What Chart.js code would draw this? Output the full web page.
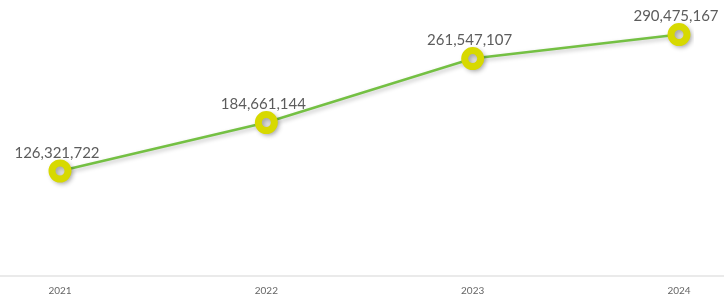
<!DOCTYPE html>
<html>
<head>
<meta charset="utf-8">
<script src="https://cdn.jsdelivr.net/npm/chart.js@4.4.0/dist/chart.umd.min.js"></script>
<style>
  html, body { margin: 0; padding: 0; background: #fff; }
  #wrap { width: 724px; height: 296px; position: relative; }
</style>
</head>
<body>
<div id="wrap"><canvas id="growth"></canvas></div>
<script>
const years = ["2021", "2022", "2023", "2024"];
const totals = [126321722, 184661144, 261547107, 290475167];

// value labels above each point
const valueLabels = {
    id: "valueLabels",
    afterDatasetsDraw(chart) {
        const ctx = chart.ctx;
        const meta = chart.getDatasetMeta(0);
        ctx.save();
        ctx.font = "15px Lato";
        ctx.fillStyle = "#5c5c5c";
        ctx.textAlign = "center";
        ctx.textBaseline = "middle";
        meta.data.forEach((pt, i) => {
            ctx.fillText(totals[i].toLocaleString("en-US"), pt.x - 3, pt.y - 18);
        });
        ctx.restore();
    }
};

// baseline that runs across the whole width
const baseLine = {
    id: "baseLine",
    beforeDraw(chart) {
        const ctx = chart.ctx;
        const y = chart.chartArea.bottom;
        ctx.save();
        ctx.strokeStyle = "#e3e3e3";
        ctx.lineWidth = 1.5;
        ctx.beginPath();
        ctx.moveTo(0, y);
        ctx.lineTo(chart.width, y);
        ctx.stroke();
        ctx.restore();
    }
};

// soft shadow under the points
const pointShadow = {
    id: "pointShadow",
    beforeDatasetDraw(chart) {
        const ctx = chart.ctx;
        ctx.save();
        ctx.shadowColor = "rgba(0,0,0,0.25)";
        ctx.shadowBlur = 4;
        ctx.shadowOffsetX = 2;
        ctx.shadowOffsetY = 2;
    },
    afterDatasetDraw(chart) {
        chart.ctx.restore();
    }
};

new Chart(document.getElementById("growth").getContext("2d"), {
    type: "line",
    data: {
        labels: years,
        datasets: [{
            data: totals,
            borderColor: "#74c043",
            borderWidth: 2.5,
            tension: 0,
            fill: false,
            pointRadius: 8,
            pointHoverRadius: 8,
            pointBorderWidth: 7,
            pointBorderColor: "#d7d900",
            pointBackgroundColor: "#dedede"
        }]
    },
    options: {
        responsive: true,
        maintainAspectRatio: false,
        animation: false,
        layout: { padding: { left: 60, right: 45, top: 4, bottom: -10 } },
        plugins: {
            legend: { display: false },
            tooltip: { enabled: false }
        },
        scales: {
            x: {
                offset: false,
                grid: { display: false, drawTicks: false },
                border: { display: false },
                ticks: {
                    color: "#666",
                    font: { family: "Lato", size: 10 },
                    padding: 9,
                    maxRotation: 0
                }
            },
            y: {
                display: false,
                min: 0,
                max: 314000000
            }
        }
    },
    plugins: [baseLine, pointShadow, valueLabels]
});
</script>
</body>
</html>
